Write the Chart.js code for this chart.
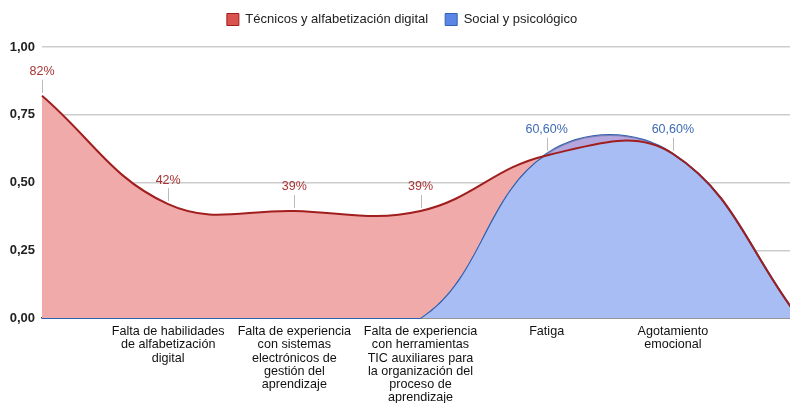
<!DOCTYPE html>
<html>
<head>
<meta charset="utf-8">
<script src="https://cdn.jsdelivr.net/npm/chart.js@4/dist/chart.umd.min.js"></script>
<style>
  html, body { margin: 0; padding: 0; background: #fff; overflow: hidden; }
  #wrap { width: 806px; height: 403px; }
</style>
</head>
<body>
<div id="wrap"><canvas id="graph" width="806" height="403"></canvas></div>
<script>
// categorias del eje x (la primera y la ultima sin texto)
let categorias = [
  '',
  ['Falta de habilidades', 'de alfabetización', 'digital'],
  ['Falta de experiencia', 'con sistemas', 'electrónicos de', 'gestión del', 'aprendizaje'],
  ['Falta de experiencia', 'con herramientas', 'TIC auxiliares para', 'la organización del', 'proceso de', 'aprendizaje'],
  ['Fatiga'],
  ['Agotamiento', 'emocional'],
  ''
]
let tecnicos = [0.82, 0.42, 0.395, 0.395, 0.60, 0.606, 0.0]
let social = [0, 0, 0, 0, 0.606, 0.606, 0.0]
let etiquetasTec = ['82%', '42%', '39%', '39%', null, null, null]
let etiquetasSoc = [null, null, null, null, '60,60%', '60,60%', null]
let ticksY = [0, 0.25, 0.5, 0.75, 1]

const fuente = "'Liberation Sans', Arial, sans-serif"

// dibuja las etiquetas de valor con su linea guia
const etiquetas = {
  id: 'etiquetas',
  afterDatasetsDraw(chart) {
    const ctx = chart.ctx
    const listas = [etiquetasTec, etiquetasSoc]
    const colores = ['#a83232', '#3d6bb3']
    listas.forEach((lista, d) => {
      const meta = chart.getDatasetMeta(d)
      lista.forEach((txt, i) => {
        if (!txt) return
        const p = meta.data[i]
        ctx.save()
        ctx.strokeStyle = '#bbbbbb'
        ctx.lineWidth = 1
        ctx.beginPath()
        ctx.moveTo(Math.round(p.x) + 0.5, p.y - 16)
        ctx.lineTo(Math.round(p.x) + 0.5, p.y - 3)
        ctx.stroke()
        ctx.font = '12.5px ' + fuente
        ctx.fillStyle = colores[d]
        ctx.textAlign = 'center'
        ctx.textBaseline = 'middle'
        ctx.fillText(txt, p.x, p.y - 24)
        ctx.restore()
      })
    })
  }
}

// leyenda mas alta para bajar el area del grafico
const altoLeyenda = {
  id: 'altoLeyenda',
  beforeInit(chart) {
    const fit = chart.legend.fit
    chart.legend.fit = function () {
      fit.bind(chart.legend)()
      this.height = 51
    }
  }
}

const data = {
  labels: categorias,
  datasets: [{
    label: 'Técnicos y alfabetización digital',
    data: tecnicos,
    borderColor: '#a01e1e',
    backgroundColor: '#d9534f',
    borderWidth: 2,
    pointRadius: 0,
    tension: 0.4,
    fill: { target: 1, above: '#f1aaaa', below: 'rgba(190,150,200,0.55)' }
  }, {
    label: 'Social y psicológico',
    data: social,
    borderColor: '#2f62b0',
    backgroundColor: '#5b86e5',
    borderWidth: 2,
    pointRadius: 0,
    tension: 0.4,
    clip: 4,
    fill: { target: 'origin', above: '#a9bdf5' }
  }]
}

const config = {
  type: 'line',
  data: data,
  plugins: [etiquetas, altoLeyenda],
  options: {
    responsive: false,
    animation: false,
    layout: { padding: { top: -4, right: 2, left: 0, bottom: 0 } },
    plugins: {
      tooltip: { enabled: false },
      legend: {
        position: 'top',
        labels: {
          boxWidth: 12,
          boxHeight: 12,
          padding: 17,
          color: '#222',
          font: { family: fuente, size: 13 },
          generateLabels(chart) {
            return chart.data.datasets.map((ds, i) => ({
              text: ds.label,
              fillStyle: ds.backgroundColor,
              strokeStyle: ds.borderColor,
              lineWidth: 1,
              datasetIndex: i,
              fontColor: '#222'
            }))
          }
        }
      }
    },
    scales: {
      x: {
        offset: false,
        grid: { display: false, drawTicks: false },
        border: { display: true, color: '#444', width: 1.5 },
        ticks: {
          color: '#111',
          autoSkip: false,
          maxRotation: 0,
          padding: 7,
          font: { family: fuente, size: 12.6, lineHeight: 1.05 }
        },
        afterFit(s) { s.height = 85 }
      },
      y: {
        min: 0,
        max: 1,
        afterBuildTicks(s) { s.ticks = ticksY.map(v => ({ value: v })) },
        grid: { color: '#cccccc', lineWidth: 1.5, drawTicks: false },
        border: { display: false },
        ticks: {
          color: '#222',
          padding: 7,
          font: { family: fuente, size: 13, weight: 'bold' },
          callback: v => v.toFixed(2).replace('.', ',')
        },
        afterFit(s) { s.width = 42 }
      }
    }
  }
}

const myChart = new Chart(document.getElementById('graph'), config)
</script>
</body>
</html>
